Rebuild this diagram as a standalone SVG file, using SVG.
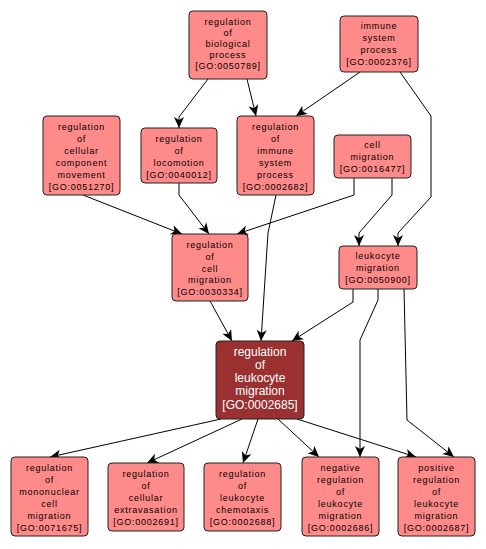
<svg xmlns="http://www.w3.org/2000/svg" width="486" height="549" viewBox="0 0 486 549">
<style>
.n rect{fill:#ff8a8a;stroke:#222;stroke-width:1}
.n text{font-family:"Liberation Sans",Arial,sans-serif;font-size:9px;letter-spacing:0.75px;fill:#000;text-anchor:middle}
.c rect{fill:#9a3030;stroke:#222;stroke-width:1}
.c text{font-family:"Liberation Sans",Arial,sans-serif;font-size:12px;fill:#fff;text-anchor:middle}
#edges path{fill:none;stroke:#000;stroke-width:1;marker-end:url(#ah)}
</style>
<defs>
<marker id="ah" markerUnits="userSpaceOnUse" markerWidth="12" markerHeight="12" viewBox="0 0 12 12" refX="11" refY="6" orient="auto">
<path d="M0,1 L11,6 L0,11 L3,6 z" fill="#000"/>
</marker>
</defs>
<rect width="486" height="549" fill="#fff"/>
<g id="edges">
<path d="M208,79 L179,117 L179,128"/>
<path d="M247,79 L256,116"/>
<path d="M360,72 L296,116"/>
<path d="M400,72 L431,116 L431,197 L398,233 L398,246"/>
<path d="M392,178 L392,195 L359,233 L359,246"/>
<path d="M354,178 L354,195 L237,234"/>
<path d="M83,195 L182,234"/>
<path d="M179,183 L179,195 L209,234"/>
<path d="M276,195 L268,233 L261,341"/>
<path d="M210,301 L232,341"/>
<path d="M353,289 L353,302 L292,341"/>
<path d="M378,289 L378,300 L360,340 L360,457"/>
<path d="M404,289 L407,420 L454,457"/>
<path d="M221,419 L50,457"/>
<path d="M242,419 L147,463"/>
<path d="M258,419 L243,463"/>
<path d="M278,419 L319,457"/>
<path d="M297,419 L416,457"/>
</g>
<g id="n1" class="n"><rect x="189" y="11" width="78" height="68" rx="4"/>
<text x="228" y="25">regulation</text><text x="228" y="36">of</text><text x="228" y="47">biological</text><text x="228" y="58">process</text><text x="228" y="69">[GO:0050789]</text></g>
<g id="n2" class="n"><rect x="340" y="16" width="78" height="56" rx="4"/>
<text x="379" y="29">immune</text><text x="379" y="41">system</text><text x="379" y="53">process</text><text x="379" y="65">[GO:0002376]</text></g>
<g id="n3" class="n"><rect x="43" y="116" width="77" height="79" rx="4"/>
<text x="81.5" y="130">regulation</text><text x="81.5" y="142">of</text><text x="81.5" y="154">cellular</text><text x="81.5" y="166">component</text><text x="81.5" y="178">movement</text><text x="81.5" y="190">[GO:0051270]</text></g>
<g id="n4" class="n"><rect x="141" y="128" width="76" height="55" rx="4"/>
<text x="179" y="142">regulation</text><text x="179" y="154">of</text><text x="179" y="166">locomotion</text><text x="179" y="178">[GO:0040012]</text></g>
<g id="n5" class="n"><rect x="237" y="116" width="77" height="79" rx="4"/>
<text x="275.5" y="130">regulation</text><text x="275.5" y="142">of</text><text x="275.5" y="154">immune</text><text x="275.5" y="166">system</text><text x="275.5" y="178">process</text><text x="275.5" y="190">[GO:0002682]</text></g>
<g id="n6" class="n"><rect x="334" y="135" width="77" height="43" rx="4"/>
<text x="372.5" y="148">cell</text><text x="372.5" y="160">migration</text><text x="372.5" y="172">[GO:0016477]</text></g>
<g id="n7" class="n"><rect x="172" y="234" width="76" height="67" rx="4"/>
<text x="210" y="248">regulation</text><text x="210" y="260">of</text><text x="210" y="272">cell</text><text x="210" y="283">migration</text><text x="210" y="295">[GO:0030334]</text></g>
<g id="n8" class="n"><rect x="339" y="246" width="78" height="43" rx="4"/>
<text x="378" y="259">leukocyte</text><text x="378" y="271">migration</text><text x="378" y="283">[GO:0050900]</text></g>
<g id="n9" class="c"><rect x="216" y="341" width="88" height="78" rx="4"/>
<text x="260" y="356">regulation</text><text x="260" y="369">of</text><text x="260" y="382">leukocyte</text><text x="260" y="395">migration</text><text x="260" y="409">[GO:0002685]</text></g>
<g id="n10" class="n"><rect x="11" y="457" width="77" height="79" rx="4"/>
<text x="49.5" y="471">regulation</text><text x="49.5" y="483">of</text><text x="49.5" y="495">mononuclear</text><text x="49.5" y="507">cell</text><text x="49.5" y="519">migration</text><text x="49.5" y="531">[GO:0071675]</text></g>
<g id="n11" class="n"><rect x="108" y="463" width="76" height="68" rx="4"/>
<text x="146" y="477">regulation</text><text x="146" y="489">of</text><text x="146" y="501">cellular</text><text x="146" y="513">extravasation</text><text x="146" y="525">[GO:0002691]</text></g>
<g id="n12" class="n"><rect x="204" y="463" width="77" height="68" rx="4"/>
<text x="242.5" y="477">regulation</text><text x="242.5" y="489">of</text><text x="242.5" y="501">leukocyte</text><text x="242.5" y="513">chemotaxis</text><text x="242.5" y="525">[GO:0002688]</text></g>
<g id="n13" class="n"><rect x="302" y="457" width="77" height="79" rx="4"/>
<text x="340.5" y="471">negative</text><text x="340.5" y="483">regulation</text><text x="340.5" y="495">of</text><text x="340.5" y="507">leukocyte</text><text x="340.5" y="519">migration</text><text x="340.5" y="531">[GO:0002686]</text></g>
<g id="n14" class="n"><rect x="398" y="457" width="77" height="79" rx="4"/>
<text x="436.5" y="471">positive</text><text x="436.5" y="483">regulation</text><text x="436.5" y="495">of</text><text x="436.5" y="507">leukocyte</text><text x="436.5" y="519">migration</text><text x="436.5" y="531">[GO:0002687]</text></g>
</svg>
